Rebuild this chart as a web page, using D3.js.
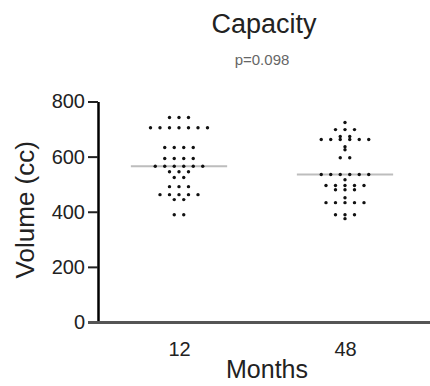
<!DOCTYPE html>
<html>
<head>
<meta charset="utf-8">
<script src="https://cdn.jsdelivr.net/npm/d3@7"></script>
<style>
  body { margin: 0; background: #fff; }
  svg text { font-family: "Liberation Sans", Arial, sans-serif; }
</style>
</head>
<body>
<svg id="chart" width="430" height="386"></svg>
<script>
// categories (months)
const months = ["12", "48"];
// volume values (cc) per group
const vol12 = [742, 742, 742,
  705, 705, 705, 705, 705, 705, 705,
  633, 633, 633, 633,
  593, 593, 593, 593,
  565, 565, 565, 565, 565, 565,
  545, 545, 545,
  524, 524,
  491, 491, 491,
  462, 462, 462, 462, 462,
  444, 444,
  389, 389];
const vol48 = [724,
  698, 698, 698,
  673, 673,
  662, 662, 662, 662, 662, 662,
  636, 625,
  596, 596,
  535, 535, 535, 535, 535, 535,
  516,
  495, 495, 495, 495, 495,
  480, 480, 480,
  451,
  433, 433, 433, 433, 433,
  389, 389, 389,
  375];
const yTicks = [0, 200, 400, 600, 800];
const pText = "p=0.098";

var svg = d3.select('#chart');

var y = d3.scaleLinear()
    .domain([0, 800])
    .range([322, 101.5]);

var x = d3.scalePoint()
    .domain(months)
    .range([96, 428])
    .padding(0.5);

var dotStep = 9.5;
var halfLine = x.step() * 0.29;

// title + p value
svg.append('text')
    .attr('x', 264).attr('y', 33)
    .attr('text-anchor', 'middle')
    .style('font-size', '27px')
    .style('fill', '#222')
    .text('Capacity');
svg.append('text')
    .attr('x', 262).attr('y', 65)
    .attr('text-anchor', 'middle')
    .style('font-size', '15px')
    .style('fill', '#666')
    .text(pText);

// y axis
var yAxis = svg.append('g')
    .attr('transform', 'translate(98,0)')
    .call(d3.axisLeft(y).tickValues(yTicks).tickSize(10).tickSizeOuter(0).tickPadding(3));
yAxis.select('.domain').style('stroke', '#000').style('stroke-width', 2.5);
yAxis.selectAll('.tick line').style('stroke', '#222').style('stroke-width', 2);
yAxis.selectAll('.tick text')
    .style('font-size', '20px')
    .style('fill', '#222')
    .style('font-family', '"Liberation Sans", Arial, sans-serif');

// x axis (no ticks, only labels and a heavy baseline)
var xAxis = svg.append('g')
    .attr('transform', 'translate(0,' + y(0) + ')')
    .call(d3.axisBottom(x).tickSize(0).tickPadding(20));
xAxis.select('.domain').remove();
xAxis.selectAll('.tick text')
    .style('font-size', '20px')
    .style('fill', '#222')
    .style('font-family', '"Liberation Sans", Arial, sans-serif');
svg.append('line')
    .attr('x1', 88).attr('x2', 430)
    .attr('y1', y(0) + 0.5).attr('y2', y(0) + 0.5)
    .style('stroke', '#555')
    .style('stroke-width', 3);

// axis titles
svg.append('text')
    .attr('transform', 'translate(34,' + (y(400) - 2) + ') rotate(-90)')
    .attr('text-anchor', 'middle')
    .style('font-size', '26px')
    .style('fill', '#222')
    .text('Volume (cc)');
svg.append('text')
    .attr('x', 267).attr('y', 378)
    .attr('text-anchor', 'middle')
    .style('font-size', '25px')
    .style('fill', '#222')
    .text('Months');

// dots: equal values share a row, spread symmetrically
function rowLayout(month, values) {
  var rows = d3.group(values, v => v);
  var pts = [];
  rows.forEach(function (vals, v) {
    var n = vals.length;
    vals.forEach(function (d, i) {
      pts.push({ cx: x(month) + (i - (n - 1) / 2) * dotStep, v: v });
    });
  });
  return pts;
}

var groups = [
  { month: months[0], values: vol12 },
  { month: months[1], values: vol48 }
];

groups.forEach(function (g) {
  var med = d3.median(g.values);
  svg.append('line')
      .attr('x1', x(g.month) - halfLine)
      .attr('x2', x(g.month) + halfLine)
      .attr('y1', y(med)).attr('y2', y(med))
      .style('stroke', '#bdbdbd')
      .style('stroke-width', 2);

  svg.append('g').selectAll('circle')
      .data(rowLayout(g.month, g.values))
      .enter().append('circle')
      .attr('cx', d => d.cx)
      .attr('cy', d => y(d.v))
      .attr('r', 1.7)
      .style('fill', '#111');
});
</script>
</body>
</html>
